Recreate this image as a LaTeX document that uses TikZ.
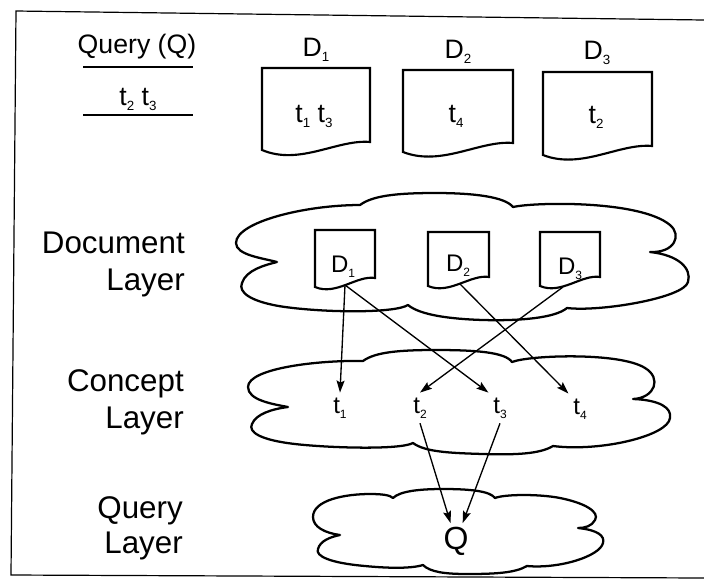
\documentclass[tikz,border=0pt]{standalone}
\usepackage{fontspec}
\setmainfont{Liberation Sans}
\usepackage{graphicx}
\usetikzlibrary{arrows.meta,calc,fit}

% small lowered index used in D_i and t_i
\newcommand\ssub[1]{\raisebox{-0.22em}{\scalebox{0.5}{#1}}}

% document outline: flat top, straight sides, wavy bottom
% #1 = frame node, #2 = extra drop of the left corner, #3 = depth of the wave
\newcommand\docoutline[3]{%
  \draw[docline] ($(#1.south west)+(0,#2)$)
    .. controls ($(#1.south west)!0.35!(#1.south east)+(0,#3)$)
    and ($(#1.south west)!0.7!(#1.south east)+(0,-3)$) .. (#1.south east)
    -- (#1.north east) -- (#1.north west) -- cycle;}

\tikzset{
  frameline/.style={line width=0.9pt},
  cloudline/.style={line width=1.7pt, line join=round, line cap=round},
  docline/.style={line width=1.6pt, line join=miter},
  hline/.style={line width=1.6pt},
  link/.style={line width=1pt, -{Stealth[length=9pt,width=6pt,inset=1.5pt]}},
  layerlab/.style={font=\fontsize{23.5}{28}\selectfont, inner sep=0pt, anchor=base east},
  headtxt/.style={font=\fontsize{20}{24}\selectfont, inner sep=0pt, anchor=base},
  innertxt/.style={font=\fontsize{18}{22}\selectfont, inner sep=0pt, anchor=base},
  term/.style={font=\fontsize{18}{22}\selectfont, inner sep=3.5pt, anchor=base},
  bigq/.style={font=\fontsize{24}{28}\selectfont, inner sep=2.5pt, anchor=base},
  docframe/.style={inner sep=0pt, outer sep=0pt},
}

\begin{document}
\begin{tikzpicture}[x=0.75pt,y=-0.75pt]
\useasboundingbox (0,0) rectangle (704,587);

% outer frame (open on the right)
\draw[frameline] (704,20) -- (16,11) -- (11,575) -- (704,578);

% ---- query and document collection at the top ----
\node[headtxt] (qhead) at (137,53) {Query (Q)};
\draw[hline] (83,67) -- (193,67);
\node[headtxt] (qterms) at (138,105) {t\ssub{2}~t\ssub{3}};
\draw[hline] (83,115) -- (193,115);

\node[headtxt] (td1lab) at (316,56) {D\ssub{1}};
\node[headtxt] (td2lab) at (458,58) {D\ssub{2}};
\node[headtxt] (td3lab) at (597,59) {D\ssub{3}};

\node[docframe, fit={(262,68) (370,142)}] (td1) {};
\node[docframe, fit={(403,70) (513,143)}] (td2) {};
\node[docframe, fit={(543,72) (652,146)}] (td3) {};
\docoutline{td1}{8}{24}
\docoutline{td2}{9}{24}
\docoutline{td3}{9}{24}
\node[headtxt] (td1txt) at (314,122) {t\ssub{1}~t\ssub{3}};
\node[headtxt] (td2txt) at (456,122) {t\ssub{4}};
\node[headtxt] (td3txt) at (596,123) {t\ssub{2}};

% ---- layer captions ----
\node[layerlab] (ldoca) at (185,253) {Document};
\node[layerlab] (ldocb) at (185,290) {Layer};
\node[layerlab] (lcona) at (184,391) {Concept};
\node[layerlab] (lconb) at (184,428) {Layer};
\node[layerlab] (lqrya) at (183,518) {Query};
\node[layerlab] (lqryb) at (183,553) {Layer};

% ---- document layer cloud ----
\draw[cloudline]
  (277,262) .. controls (262,258) and (236,255) .. (236,243)
  .. controls (236,222) and (305,205) .. (360,205)
  .. controls (372,196) and (395,193) .. (435,193)
  .. controls (475,193) and (505,197) .. (513,207)
  .. controls (535,202) and (640,200) .. (670,225)
  .. controls (682,235) and (675,253) .. (650,252)
  .. controls (678,255) and (692,268) .. (688,282)
  .. controls (684,298) and (600,312) .. (567,308)
  .. controls (555,318) and (520,321) .. (483,320)
  .. controls (450,319) and (420,315) .. (408,305)
  .. controls (395,313) and (330,313) .. (285,307)
  .. controls (250,302) and (238,292) .. (242,283)
  .. controls (246,270) and (265,265) .. (277,262);

% ---- concept layer cloud ----
\draw[cloudline]
  (288,407) .. controls (272,404) and (248,400) .. (248,387)
  .. controls (248,368) and (320,360) .. (363,361)
  .. controls (375,352) and (400,350) .. (435,350)
  .. controls (475,350) and (505,352) .. (512,362)
  .. controls (530,355) and (620,352) .. (645,368)
  .. controls (662,378) and (655,398) .. (633,399)
  .. controls (660,400) and (672,408) .. (670,418)
  .. controls (668,436) and (600,452) .. (553,446)
  .. controls (540,454) and (515,455) .. (483,454)
  .. controls (450,453) and (425,452) .. (413,443)
  .. controls (400,450) and (330,448) .. (295,444)
  .. controls (260,440) and (248,432) .. (252,424)
  .. controls (256,414) and (272,409) .. (288,407);

% ---- query layer cloud ----
\draw[cloudline]
  (340,535) .. controls (325,533) and (313,527) .. (313,517)
  .. controls (313,500) and (345,494) .. (370,494)
  .. controls (382,494) and (390,495) .. (393,498)
  .. controls (400,491) and (420,489) .. (443,489)
  .. controls (470,489) and (490,491) .. (495,498)
  .. controls (505,494) and (540,494) .. (560,498)
  .. controls (585,503) and (600,512) .. (595,520)
  .. controls (592,526) and (585,528) .. (578,528)
  .. controls (598,530) and (605,536) .. (603,543)
  .. controls (600,556) and (560,569) .. (527,566)
  .. controls (515,573) and (495,574) .. (467,574)
  .. controls (445,574) and (430,572) .. (423,565)
  .. controls (410,569) and (385,568) .. (365,566)
  .. controls (330,563) and (315,556) .. (318,549)
  .. controls (320,541) and (330,537) .. (340,535);

% ---- documents inside the document layer ----
\node[docframe, fit={(315,230) (375,278)}] (cd1) {};
\node[docframe, fit={(428,232) (489,277)}] (cd2) {};
\node[docframe, fit={(540,232) (600,277)}] (cd3) {};
\docoutline{cd1}{9}{18}
\docoutline{cd2}{9}{18}
\docoutline{cd3}{9}{18}
\node[innertxt] (cd1lab) at (343,272) {D\ssub{1}};
\node[innertxt] (cd2lab) at (458,271) {D\ssub{2}};
\node[innertxt] (cd3lab) at (570,274) {D\ssub{3}};
\coordinate (cd1o) at (345,285);
\coordinate (cd2o) at (460,284);
\coordinate (cd3o) at (563,287);

% ---- concepts ----
\node[term] (t1) at (340,413) {t\ssub{1}};
\node[term] (t2) at (420,413) {t\ssub{2}};
\node[term] (t3) at (500,413) {t\ssub{3}};
\node[term] (t4) at (580,414) {t\ssub{4}};

% ---- query ----
\node[bigq] (Q) at (456,549) {Q};

% ---- links ----
\draw[link] (cd1o) -- (t1.north);
\draw[link] (cd1o) -- (t3.north west);
\draw[link] (cd2o) -- (t4.north west);
\draw[link] (cd3o) -- (t2.north);
\draw[link] (t2.south) -- (Q);
\draw[link] (t3.south) -- (Q);
\end{tikzpicture}
\end{document}
